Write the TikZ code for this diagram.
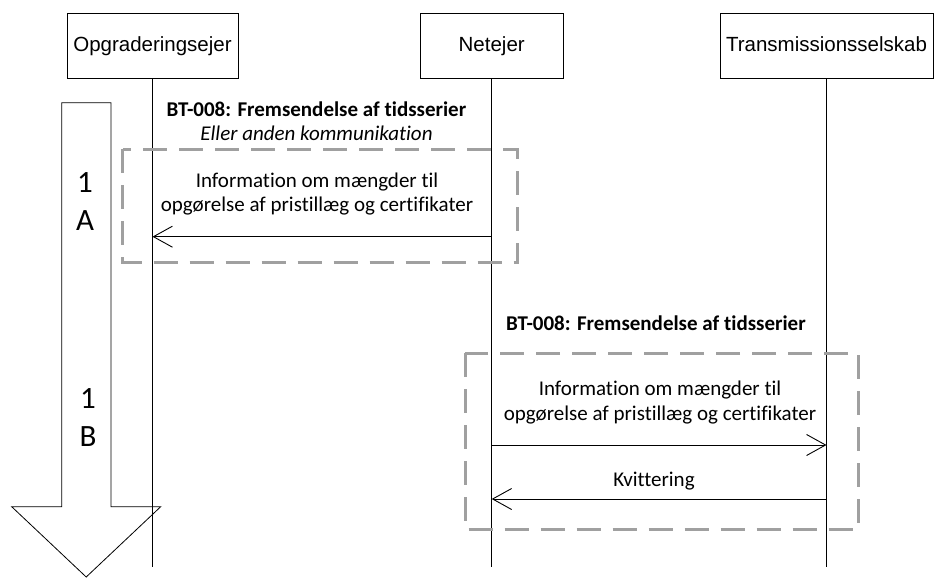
\documentclass[tikz,border=0pt]{standalone}
\usepackage{fontspec}
\setmainfont{Carlito}[Ligatures=NoCommon]
\newfontfamily\arialf{Liberation Sans}
\usetikzlibrary{arrows.meta}
\definecolor{dashgray}{RGB}{160,160,160}
\tikzset{
  actor/.style={draw=black, line width=0.8pt, fill=white, inner sep=0pt,
    minimum height=65pt, text height=12pt, text depth=0pt,
    font=\arialf\fontsize{20.5}{24}\selectfont},
  lifeline/.style={draw=black, line width=0.9pt},
  msg/.style={draw=black, line width=0.9pt,
    -{Straight Barb[length=19pt,width=21pt,line width=0.9pt]}},
  dashbox/.style={draw=dashgray, line width=3pt, dash pattern=on 24pt off 12pt},
  lbl/.style={inner sep=0pt, anchor=base, align=center,
    font=\fontsize{21}{24.5}\selectfont},
  phase/.style={inner sep=0pt, anchor=base, align=center,
    font=\fontsize{31}{38}\selectfont},
  bigarrow/.style={draw=black, line width=0.8pt}
}
\begin{document}
\begin{tikzpicture}[x=1pt,y=-1pt]
\useasboundingbox (0,0) rectangle (934,578);

% phase arrow
\draw[bigarrow] (61.7,102.7) -- (111,102.7) -- (111,506.7) -- (160.7,506.7)
  -- (86.2,577) -- (11.7,506.7) -- (61.7,506.7) -- cycle;
\node[phase] (p1a) at (85,230) {1\\A};
\node[phase] (p1b) at (88,446) {1\\B};

% actors
\node[actor, minimum width=171pt] (opg) at (152.5,45.8) {Opgraderingsejer};
\node[actor, minimum width=143pt] (net) at (491.7,45.8) {Netejer};
\node[actor, minimum width=213pt] (tra) at (826.5,45.8) {Transmissionsselskab};

% lifeline ends
\coordinate (opgend) at (152.5,567);
\coordinate (netend) at (491.7,567);
\coordinate (traend) at (826.5,567);
\draw[lifeline] (opg.south) -- (opgend);
\draw[lifeline] (net.south) -- (netend);
\draw[lifeline] (tra.south) -- (traend);

% 1A
\draw[dashbox] (122.5,149.3) rectangle (517.7,262.3);
\node[lbl, font=\fontsize{21}{24}\selectfont] (t1a) at (316.5,140)
  {\textbf{BT-008: Fremsendelse af tidsserier}\\\textit{Eller anden kommunikation}};
\node[lbl] (m1a) at (317,211.7)
  {Information om mængder til\\opgørelse af pristillæg og certifikater};
\coordinate (n1a) at (491.7,236.7);
\coordinate (o1a) at (152.5,236.7);
\draw[msg] (n1a) -- (o1a);

% 1B
\node[lbl] (t1b) at (656,330.7) {\textbf{BT-008: Fremsendelse af tidsserier}};
\draw[dashbox] (465,353) rectangle (858.3,529.3);
\node[lbl] (m1b) at (660,420)
  {Information om mængder til\\opgørelse af pristillæg og certifikater};
\coordinate (n1b) at (491.7,445);
\coordinate (t1bp) at (826.5,445);
\draw[msg] (n1b) -- (t1bp);
\node[lbl] (kv) at (654,486.7) {Kvittering};
\coordinate (t2b) at (826.5,499);
\coordinate (n2b) at (491.7,499);
\draw[msg] (t2b) -- (n2b);
\end{tikzpicture}
\end{document}
